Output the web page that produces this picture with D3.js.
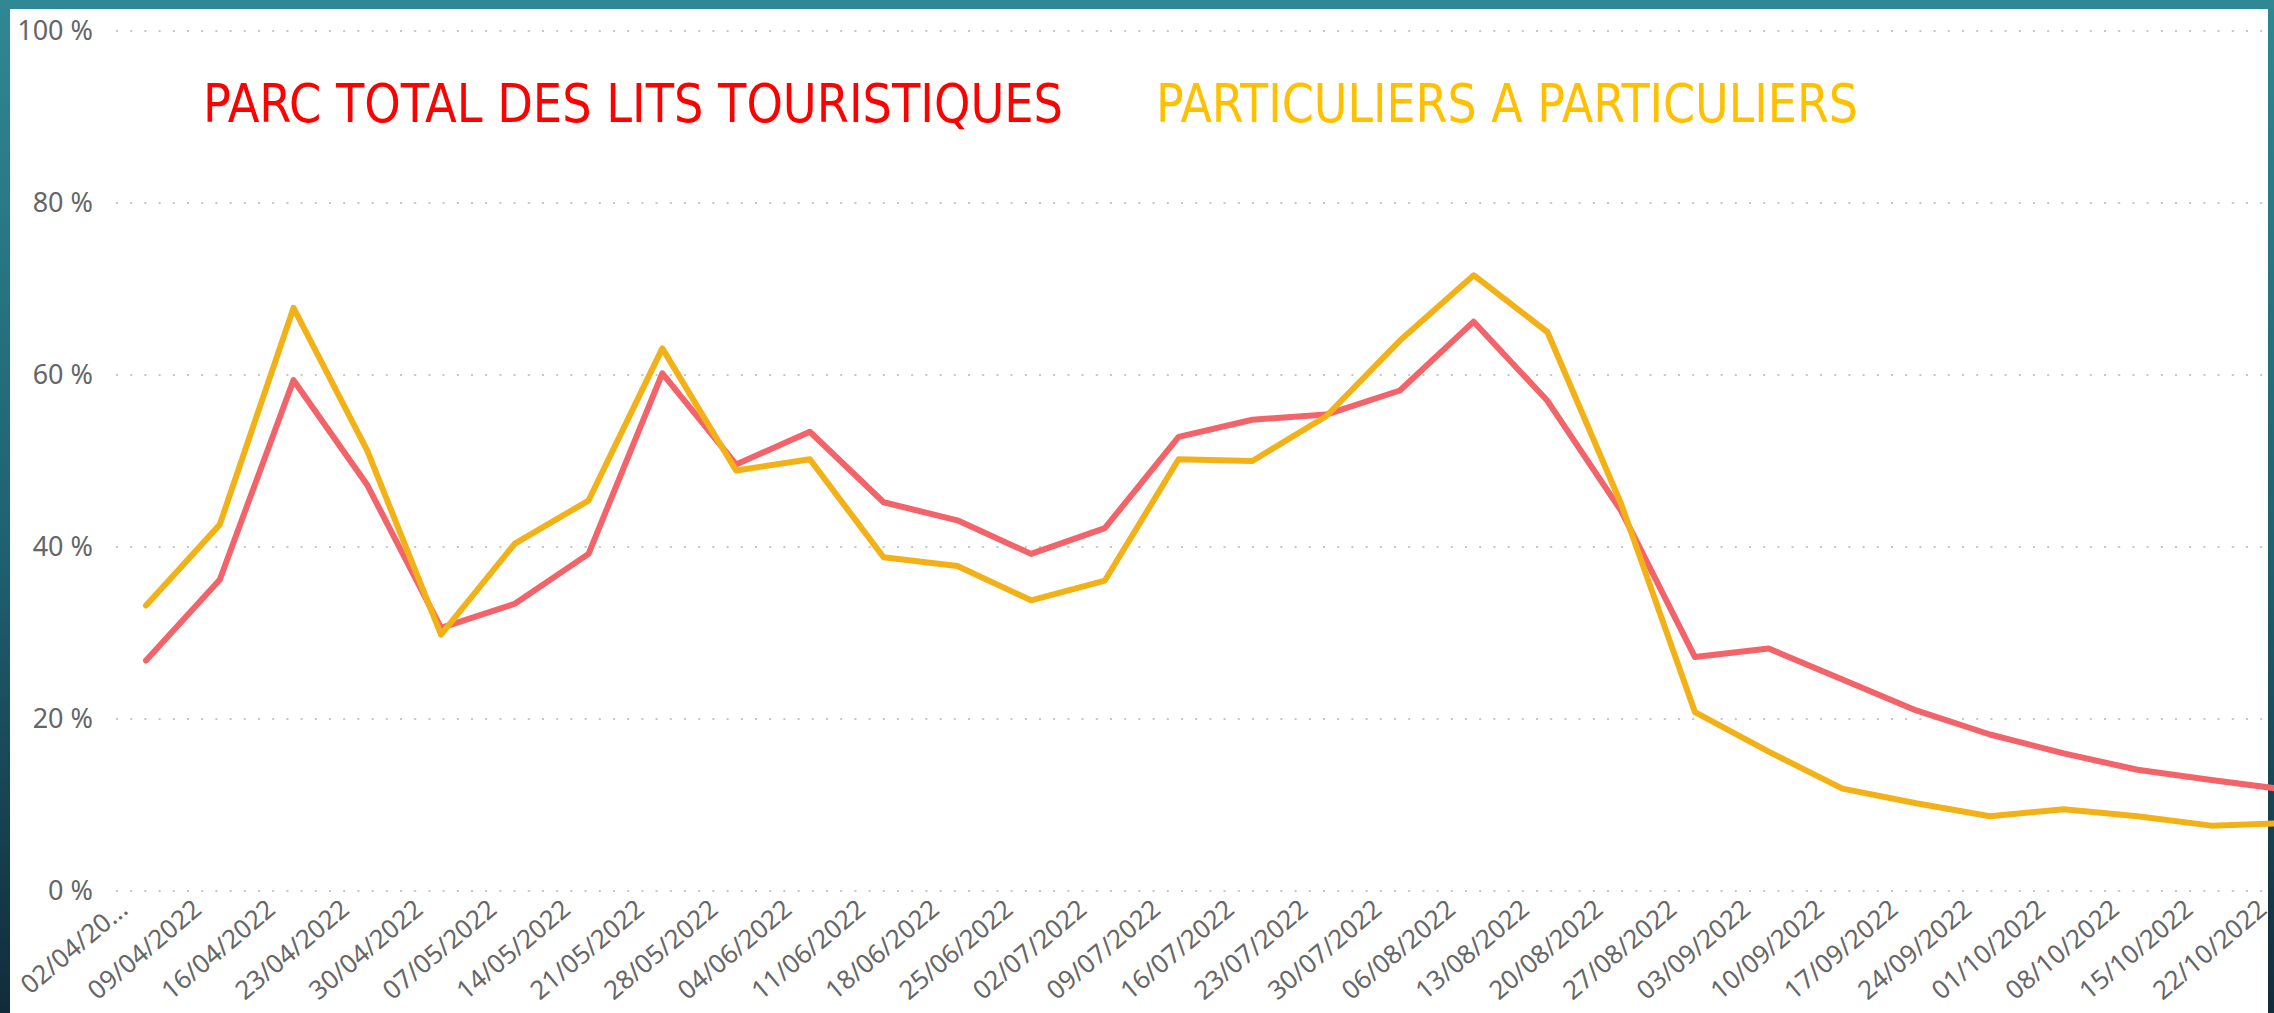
<!DOCTYPE html>
<html>
<head>
<meta charset="utf-8">
<script src="https://cdn.jsdelivr.net/npm/d3@7"></script>
<style>
  body { margin: 0; overflow: hidden; background: linear-gradient(to bottom, #2f8893 0%, #1f6070 55%, #112b3c 100%); }
  svg { display: block; }
</style>
</head>
<body>
<svg id="chart"></svg>
<script>
// DATA
const weeks = ["02/04/2022", "09/04/2022", "16/04/2022", "23/04/2022", "30/04/2022", "07/05/2022",
               "14/05/2022", "21/05/2022", "28/05/2022", "04/06/2022", "11/06/2022", "18/06/2022",
               "25/06/2022", "02/07/2022", "09/07/2022", "16/07/2022", "23/07/2022", "30/07/2022",
               "06/08/2022", "13/08/2022", "20/08/2022", "27/08/2022", "03/09/2022", "10/09/2022",
               "17/09/2022", "24/09/2022", "01/10/2022", "08/10/2022", "15/10/2022", "22/10/2022"]

const parc_total = [26.8, 36.2, 59.4, 47.2, 30.6, 33.4, 39.2, 60.2, 49.6, 53.4,
                    45.2, 43.1, 39.2, 42.2, 52.8, 54.8, 55.4, 58.2, 66.2, 57.0,
                    44.2, 27.2, 28.2, 24.6, 21.0, 18.2, 16.0, 14.1, 12.9, 11.8]

const particuliers = [33.2, 42.6, 67.8, 51.2, 29.8, 40.4, 45.4, 63.1, 48.9, 50.2,
                      38.8, 37.8, 33.8, 36.1, 50.2, 50.0, 55.2, 64.0, 71.6, 65.0,
                      45.0, 20.8, 16.2, 11.9, 10.2, 8.7, 9.5, 8.7, 7.6, 7.9]

const y_ticks = [0, 20, 40, 60, 80, 100]

const legend_labels = ["PARC TOTAL DES LITS TOURISTIQUES", "PARTICULIERS A PARTICULIERS"]

// set the dimensions
const W = 2274, H = 1013
const axis_font = "'Noto Sans', 'Open Sans', sans-serif"

const svg = d3.select("#chart")
              .attr("width", W)
              .attr("height", H)

// white panel
svg.append("rect")
   .attr("x", 10)
   .attr("y", 9)
   .attr("width", 2258)
   .attr("height", H)
   .attr("fill", "#ffffff")

// scales
const x = d3.scalePoint()
            .domain(weeks)
            .range([146, 2285])

const y = d3.scaleLinear()
            .domain([0, 100])
            .range([891, 31])

// GRIDLINES
svg.append("g")
   .attr("class", "grid")
   .selectAll("line")
   .data(y_ticks)
   .enter()
   .append("line")
   .attr("x1", 116)
   .attr("x2", 2268)
   .attr("y1", d => y(d))
   .attr("y2", d => y(d))
   .attr("stroke", "#c6c6c6")
   .attr("stroke-width", 2)
   .attr("stroke-dasharray", "2 12.2")

// Y AXIS
const y_axis = svg.append("g")
                  .attr("transform", "translate(93,0)")
                  .call(d3.axisLeft(y).tickValues(y_ticks).tickFormat(d => d + " %").tickSize(0).tickPadding(0))

y_axis.select(".domain").remove()
y_axis.selectAll("text")
      .attr("font-family", axis_font)
      .attr("font-size", 27)
      .attr("fill", "#666666")

// X AXIS
const x_axis = svg.append("g")
                  .attr("transform", "translate(0,912)")
                  .call(d3.axisBottom(x).tickSize(0).tickFormat((d, i) => i == 0 ? d.slice(0, 8) + "..." : d))

x_axis.select(".domain").remove()
x_axis.selectAll("text")
      .attr("x", 0)
      .attr("y", 0)
      .attr("dy", 0)
      .attr("transform", "translate(-17,0) rotate(-40)")
      .attr("text-anchor", "end")
      .attr("font-family", axis_font)
      .attr("font-size", 26)
      .attr("fill", "#666666")

// LINES
const line = d3.line()
               .x((d, i) => x(weeks[i]))
               .y(d => y(d))

svg.append("path")
   .datum(parc_total)
   .attr("d", line)
   .attr("fill", "none")
   .attr("stroke", "#f2636a")
   .attr("stroke-width", 6)
   .attr("stroke-linecap", "round")
   .attr("stroke-linejoin", "round")

svg.append("path")
   .datum(particuliers)
   .attr("d", line)
   .attr("fill", "none")
   .attr("stroke", "#f2b217")
   .attr("stroke-width", 6)
   .attr("stroke-linecap", "round")
   .attr("stroke-linejoin", "round")

// LEGEND TEXTS
svg.append("text")
   .attr("x", 203)
   .attr("y", 122)
   .attr("font-family", "'DejaVu Sans Condensed', 'DejaVu Sans', sans-serif")
   .attr("font-size", 53)
   .attr("fill", "#ff0000")
   .attr("textLength", 860)
   .attr("lengthAdjust", "spacingAndGlyphs")
   .text(legend_labels[0])

svg.append("text")
   .attr("x", 1156)
   .attr("y", 122)
   .attr("font-family", "'DejaVu Sans Condensed', 'DejaVu Sans', sans-serif")
   .attr("font-size", 53)
   .attr("fill", "#ffc000")
   .attr("textLength", 702)
   .attr("lengthAdjust", "spacingAndGlyphs")
   .text(legend_labels[1])
</script>
</body>
</html>
